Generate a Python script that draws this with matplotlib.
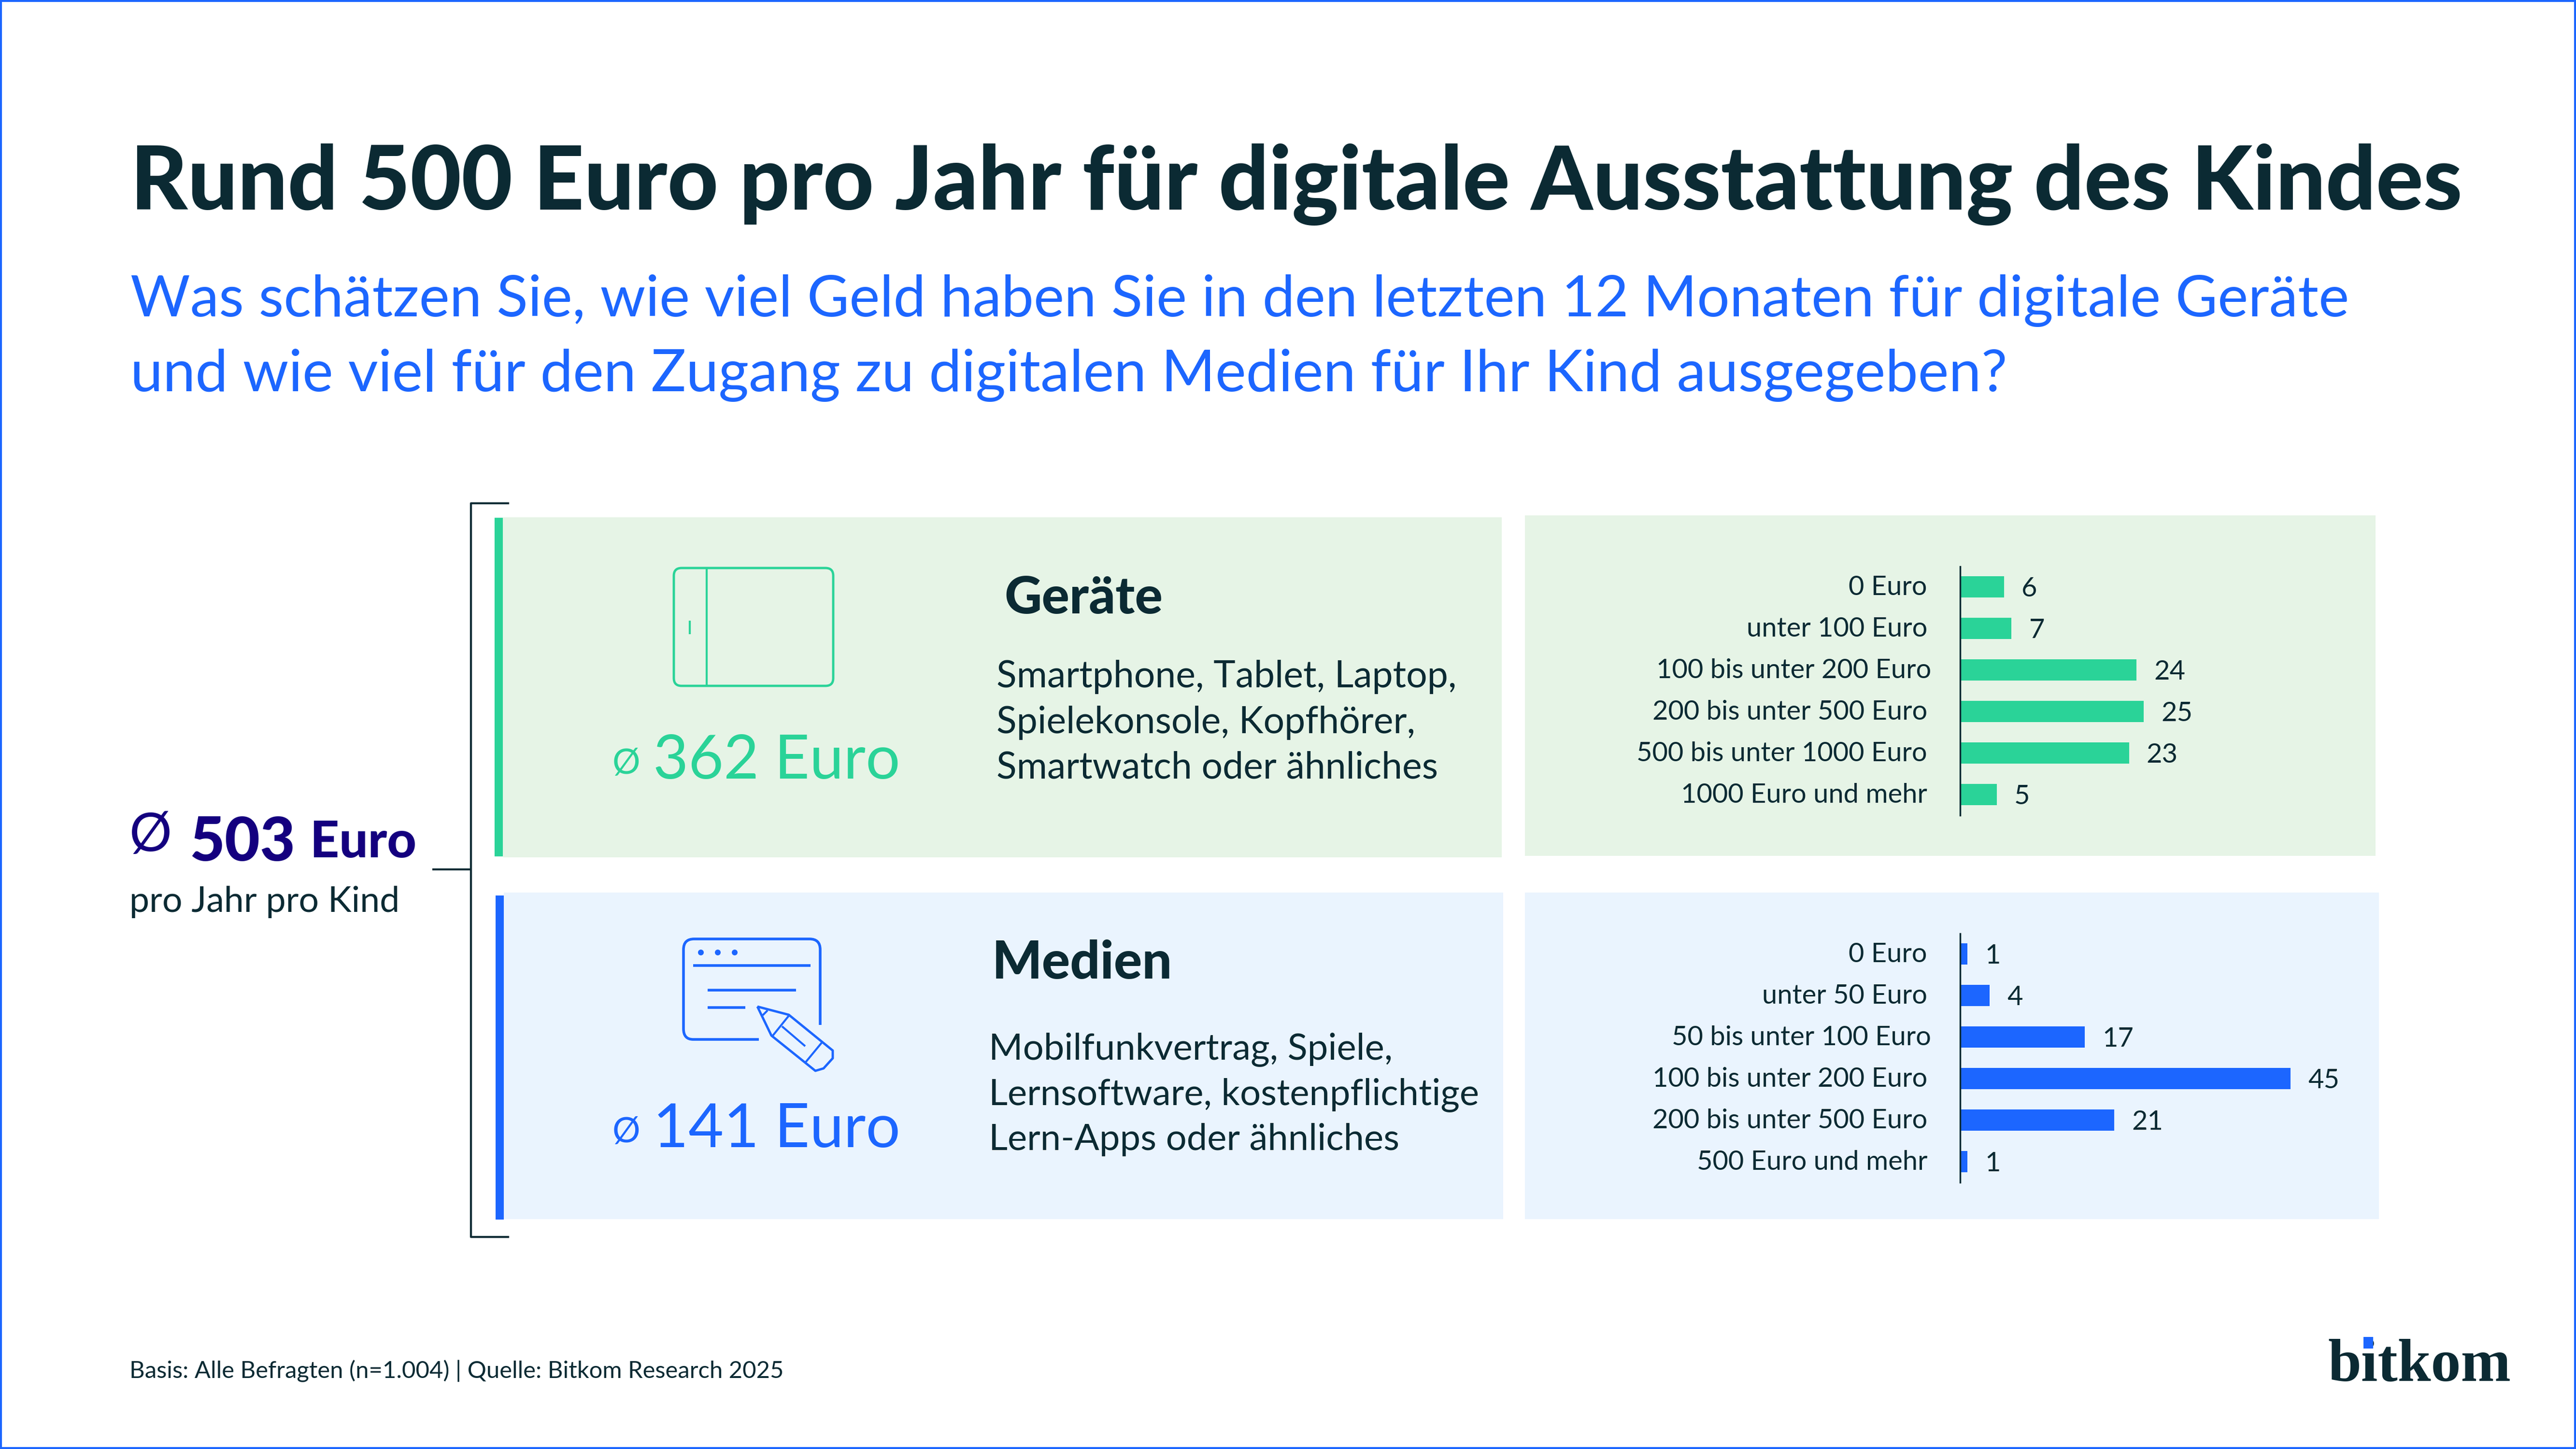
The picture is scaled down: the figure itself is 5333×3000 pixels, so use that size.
import matplotlib
matplotlib.use('Agg')
import matplotlib.pyplot as plt
from matplotlib.patches import Rectangle, FancyBboxPatch, Circle, PathPatch
from matplotlib.path import Path
from matplotlib.transforms import ScaledTranslation

W, H = 5333, 3000

# 配色
DARK = '#0b2a33'
BLUE = '#1c66ff'
GREEN = '#2ad398'
NAVY = '#14007f'
BG_GREEN = '#e6f4e6'
BG_BLUE = '#eaf4fe'

# 数据
geraete_labels = ['0 Euro', 'unter 100 Euro', '100 bis unter 200 Euro',
                  '200 bis unter 500 Euro', '500 bis unter 1000 Euro', '1000 Euro und mehr']
geraete_values = [6, 7, 24, 25, 23, 5]
medien_labels = ['0 Euro', 'unter 50 Euro', '50 bis unter 100 Euro',
                 '100 bis unter 200 Euro', '200 bis unter 500 Euro', '500 Euro und mehr']
medien_values = [1, 4, 17, 45, 21, 1]

title = 'Rund 500 Euro pro Jahr für digitale Ausstattung des Kindes'
subtitle_1 = 'Was schätzen Sie, wie viel Geld haben Sie in den letzten 12 Monaten für digitale Geräte'
subtitle_2 = 'und wie viel für den Zugang zu digitalen Medien für Ihr Kind ausgegeben?'
geraete_text = ['Smartphone, Tablet, Laptop,', 'Spielekonsole, Kopfhörer,', 'Smartwatch oder ähnliches']
medien_text = ['Mobilfunkvertrag, Spiele,', 'Lernsoftware, kostenpflichtige', 'Lern-Apps oder ähnliches']
source = 'Basis: Alle Befragten (n=1.004) | Quelle: Bitkom Research 2025'

plt.rcParams['font.family'] = ['Lato', 'DejaVu Sans']

fig = plt.figure(figsize=(W / 100, H / 100), dpi=100, facecolor='white')
bg = fig.add_axes([0, 0, 1, 1])
bg.set_xlim(0, W)
bg.set_ylim(H, 0)
bg.axis('off')


def txt(x, y, s, px, color=DARK, weight='normal', **kw):
    bg.text(x, y, s, fontsize=px * 0.72, color=color, fontweight=weight, va='baseline', **kw)


def rect(x0, y0, x1, y1, color, zorder=1):
    bg.add_patch(Rectangle((x0, y0), x1 - x0, y1 - y0, facecolor=color, edgecolor='none', zorder=zorder))


def line(xs, ys, color, lw=4.0):
    bg.plot(xs, ys, color=color, lw=lw, solid_capstyle='butt', solid_joinstyle='round')


# 外框
bg.add_patch(Rectangle((2, 2), W - 4, H - 4, facecolor='none', edgecolor=BLUE, lw=3))

# 标题
txt(270, 434, title, 182.7, weight='black')
txt(270, 655, subtitle_1, 119.5, color=BLUE)
txt(270, 810, subtitle_2, 120.5, color=BLUE)

# 背景面板
rect(1041, 1071, 3109, 1775, BG_GREEN)
rect(1024, 1072, 1041, 1773, GREEN)
rect(3157, 1067, 4918, 1772, BG_GREEN)
rect(1043, 1848, 3112, 2524, BG_BLUE)
rect(1026, 1854, 1043, 2525, BLUE)
rect(3157, 1848, 4925, 2524, BG_BLUE)

# 括号
line([1054, 975, 975, 1054], [1042, 1042, 2561, 2561], DARK, lw=3)
line([895, 975], [1800, 1800], DARK, lw=3)

# 左侧总计
txt(268, 1762, 'Ø', 110, color=NAVY)
txt(392, 1782, '503', 126, color=NAVY, weight='black')
txt(642, 1775, 'Euro', 105, color=NAVY, weight='black')
txt(268, 1888, 'pro Jahr pro Kind', 73.5)

# 平板图标
bg.add_patch(FancyBboxPatch((1405, 1186), 310, 224, boxstyle='round,pad=10,rounding_size=16',
                            facecolor='none', edgecolor=GREEN, lw=3.5))
line([1463, 1463], [1177, 1419], GREEN, lw=3)
line([1428, 1428], [1285, 1313], GREEN, lw=3)

# 页面和铅笔图标
verts = [(1571, 2152), (1435, 2152), (1415, 2152), (1415, 2130), (1415, 1966), (1415, 1944), (1437, 1944),
         (1676, 1944), (1698, 1944), (1698, 1966), (1698, 2122)]
codes = [Path.MOVETO, Path.LINETO, Path.CURVE3, Path.CURVE3, Path.LINETO, Path.CURVE3, Path.CURVE3,
         Path.LINETO, Path.CURVE3, Path.CURVE3, Path.LINETO]
bg.add_patch(PathPatch(Path(verts, codes), facecolor='none', edgecolor=BLUE, lw=4))
for dot_x in [1451, 1486, 1521]:
    bg.add_patch(Circle((dot_x, 1972), 6, facecolor=BLUE, edgecolor='none'))
line([1435, 1678], [1999, 1999], BLUE)
line([1465, 1648], [2050, 2050], BLUE)
line([1465, 1543], [2086, 2086], BLUE)
line([1568, 1633, 1724, 1724, 1705, 1688, 1597, 1568],
     [2084, 2101, 2175, 2191, 2212, 2217, 2144, 2084], BLUE, lw=3.5)
line([1589, 1579], [2092, 2102], BLUE, lw=3)
line([1633, 1600], [2103, 2144], BLUE, lw=3)
line([1619, 1667], [2125, 2166], BLUE, lw=3)
line([1701, 1668], [2159, 2199], BLUE, lw=3)

# 平均值
txt(1268, 1602, 'Ø', 72, color=GREEN)
txt(1352, 1612, '362 Euro', 126, color=GREEN)
txt(1268, 2365, 'Ø', 72, color=BLUE)
txt(1352, 2375, '141 Euro', 126, color=BLUE)

# 说明文字
txt(2079, 1270, 'Geräte', 107, weight='black')
for y, s in zip([1423, 1518, 1611], geraete_text):
    txt(2063, y, s, 77)
txt(2054, 2026, 'Medien', 109, weight='black')
for y, s in zip([2194, 2288, 2381], medien_text):
    txt(2047, y, s, 76)

# 页脚和标志
txt(268, 2853, source, 49)
txt(4819, 2859, 'bitkom', 124, family='Liberation Serif', weight='bold')
rect(4893, 2768, 4913, 2792, BLUE, zorder=5)


def bars(top, bottom, labels, values, color):
    # 柱状图，像素换算成坐标
    x0 = 4058
    width = 800
    ax = fig.add_axes([x0 / W, 1 - bottom / H, width / W, (bottom - top) / H])
    ax.patch.set_alpha(0)
    pos = list(range(len(values)))
    ax.barh(pos, values, height=0.51, color=color)
    ax.set_xlim(0, width / 15.2)
    ax.set_ylim(5.5, -0.49)
    ax.set_xticks([])
    ax.set_yticks(pos)
    ax.set_yticklabels(labels, fontsize=56 * 0.72, color=DARK)
    ax.tick_params(axis='y', length=0, pad=49)
    ax.yaxis.get_major_ticks()[2].set_pad(43)
    # 标签上移一点
    for lbl in ax.get_yticklabels():
        lbl.set_transform(lbl.get_transform() + ScaledTranslation(0, 2.5 / 72, fig.dpi_scale_trans))
    for s in ['top', 'right', 'bottom']:
        ax.spines[s].set_visible(False)
    ax.spines['left'].set_color(DARK)
    ax.spines['left'].set_linewidth(2.5)
    for p, v in zip(pos, values):
        ax.annotate(str(v), (v, p), xytext=(26, -3), textcoords='offset points',
                    va='center', ha='left', fontsize=56 * 0.72, color=DARK)


bars(1173, 1688, geraete_labels, geraete_values, GREEN)
bars(1933, 2448, medien_labels, medien_values, BLUE)

fig.savefig('out.png', dpi=100)
